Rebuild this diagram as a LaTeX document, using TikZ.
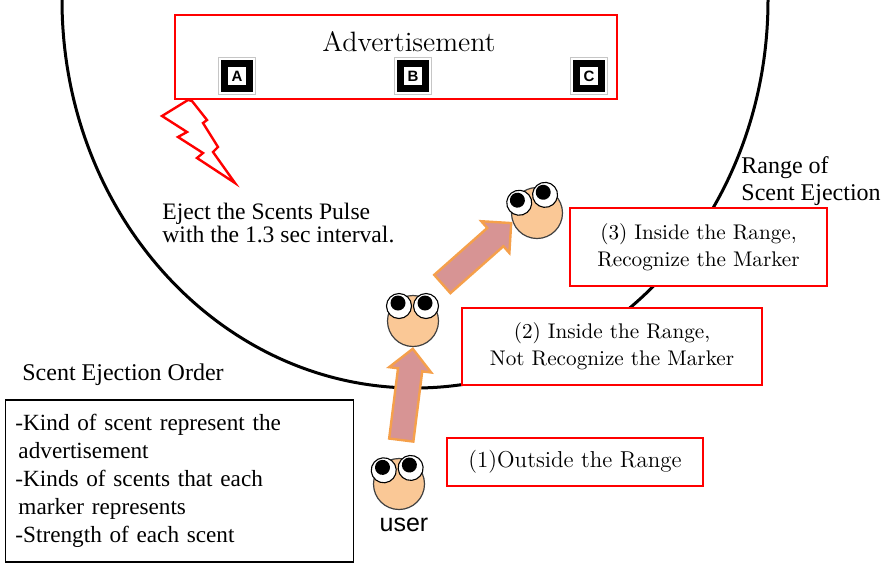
\documentclass[tikz,border=0pt]{standalone}
\usepackage{fontspec}
\usepackage{tikz}
\usetikzlibrary{shapes.arrows}
\newfontfamily\timesfont{Liberation Serif}
\newfontfamily\arialfont{Liberation Sans}

\definecolor{skin}{RGB}{250,200,150}
\definecolor{arrowfill}{RGB}{215,148,148}
\definecolor{arrowedge}{RGB}{245,160,75}

\tikzset{
  redbox/.style={draw=red, line width=1.3pt, fill=white, align=center, inner sep=0pt},
  head/.style={circle, draw=black!75, line width=0.6pt, fill=skin, minimum size=25.5pt, inner sep=0pt},
  fatarrow/.style={single arrow, draw=arrowedge, line width=1.2pt, fill=arrowfill,
    minimum width=20pt, single arrow head extend=4.5pt, inner xsep=0pt, inner ysep=5.5pt,
    minimum height=46pt},
  markerframe/.style={draw=gray!45, line width=0.5pt, fill=white, minimum size=18.5pt, inner sep=0pt},
  markerblack/.style={fill=black, minimum size=16pt, inner sep=0pt},
  markerid/.style={fill=white, minimum size=9pt, inner sep=0pt, font=\arialfont\bfseries\fontsize{7.5}{7.5}\selectfont},
  pics/eyes/.style={code={
    \foreach \ex in {-14,13}{
      \draw[black, line width=0.55pt, fill=white] (\ex,-15) circle[radius=12.5];
      \fill[black] (\ex-1,-18) circle[radius=7.5];
    }}}
}

\begin{document}
\begin{tikzpicture}[x=0.5pt, y=-0.5pt]
\useasboundingbox (0,0) rectangle (883,563);

% range of the scent ejection
\draw[line width=1.5pt] (62,0) arc[start angle=180, end angle=0, x radius=353, y radius=388];
\node[font=\timesfont\fontsize{12}{13.5}\selectfont, align=left, anchor=west, inner sep=0pt] (range) at (741,181) {Range of\\Scent Ejection};

% advertisement with the markers
\draw[red, line width=1.2pt, fill=white, line join=miter] (188,100) -- (162,116) -- (187,132) -- (178,137) -- (203,153) -- (197,158) -- (235,183) -- (213,152) -- (218,147) -- (203,123) -- (207,120) -- (192,101) -- cycle;
\node[redbox, minimum width=221pt, minimum height=42pt] (ad) at (396,57) {};
\node[font=\fontsize{14}{16}\selectfont] (adtitle) at (409,42) {Advertisement};
\foreach \m/\x in {A/237, B/413, C/589}{
  \node[markerframe] (m\m) at (\x,76) {};
  \node[markerblack] at (m\m) {};
  \node[markerid] at (m\m) {\m};
}
\node[font=\timesfont\fontsize{11.8}{11.2}\selectfont, align=left, anchor=west, inner sep=0pt] (pulse) at (162,223) {Eject the Scents Pulse\\with the 1.3 sec interval.};

% user states
\node[redbox, minimum width=128.5pt, minimum height=39pt, font=\fontsize{10.6}{13.5}\selectfont] (step3) at (698.5,247) {(3) Inside the Range,\\Recognize the Marker};
\node[redbox, minimum width=150pt, minimum height=38.5pt, font=\fontsize{10.6}{13.5}\selectfont] (step2) at (612,346.5) {(2) Inside the Range,\\Not Recognize the Marker};
\node[redbox, minimum width=128pt, minimum height=24pt, font=\fontsize{11.5}{13.5}\selectfont] (step1) at (575,462) {(1)Outside the Range};

% order sent to the device
\node[font=\timesfont\fontsize{12}{14}\selectfont, anchor=west, inner sep=0pt] (ordertitle) at (22,375) {Scent Ejection Order};
\node[draw, line width=0.9pt, fill=white, text width=164pt, inner xsep=5pt, minimum height=81pt, align=left,
  font=\timesfont\fontsize{11.6}{14}\selectfont] (order) at (179.5,481)
  {-Kind of scent represent the\\\hspace{1.5pt}advertisement\\-Kinds of scents that each\\\hspace{1.5pt}marker represents\\-Strength of each scent};

% the user walking in
\node[head] (u1) at (399,484) {};
\node[head] (u2) at (413,321) {};
\node[head] (u3) at (537,213) {};
\pic[rotate=5] at (u1) {eyes};
\pic at (u2) {eyes};
\pic[rotate=17] at (u3) {eyes};
\node[font=\arialfont\fontsize{12.5}{12.5}\selectfont, inner sep=0pt] (user) at (404,525) {user};

\path (u1.north) -- (u2.south) node[fatarrow, pos=1, sloped, anchor=tip, allow upside down] {};
\path (u2.60) -- (u3.200) node[fatarrow, pos=1, sloped, anchor=tip, allow upside down] {};
\end{tikzpicture}
\end{document}
